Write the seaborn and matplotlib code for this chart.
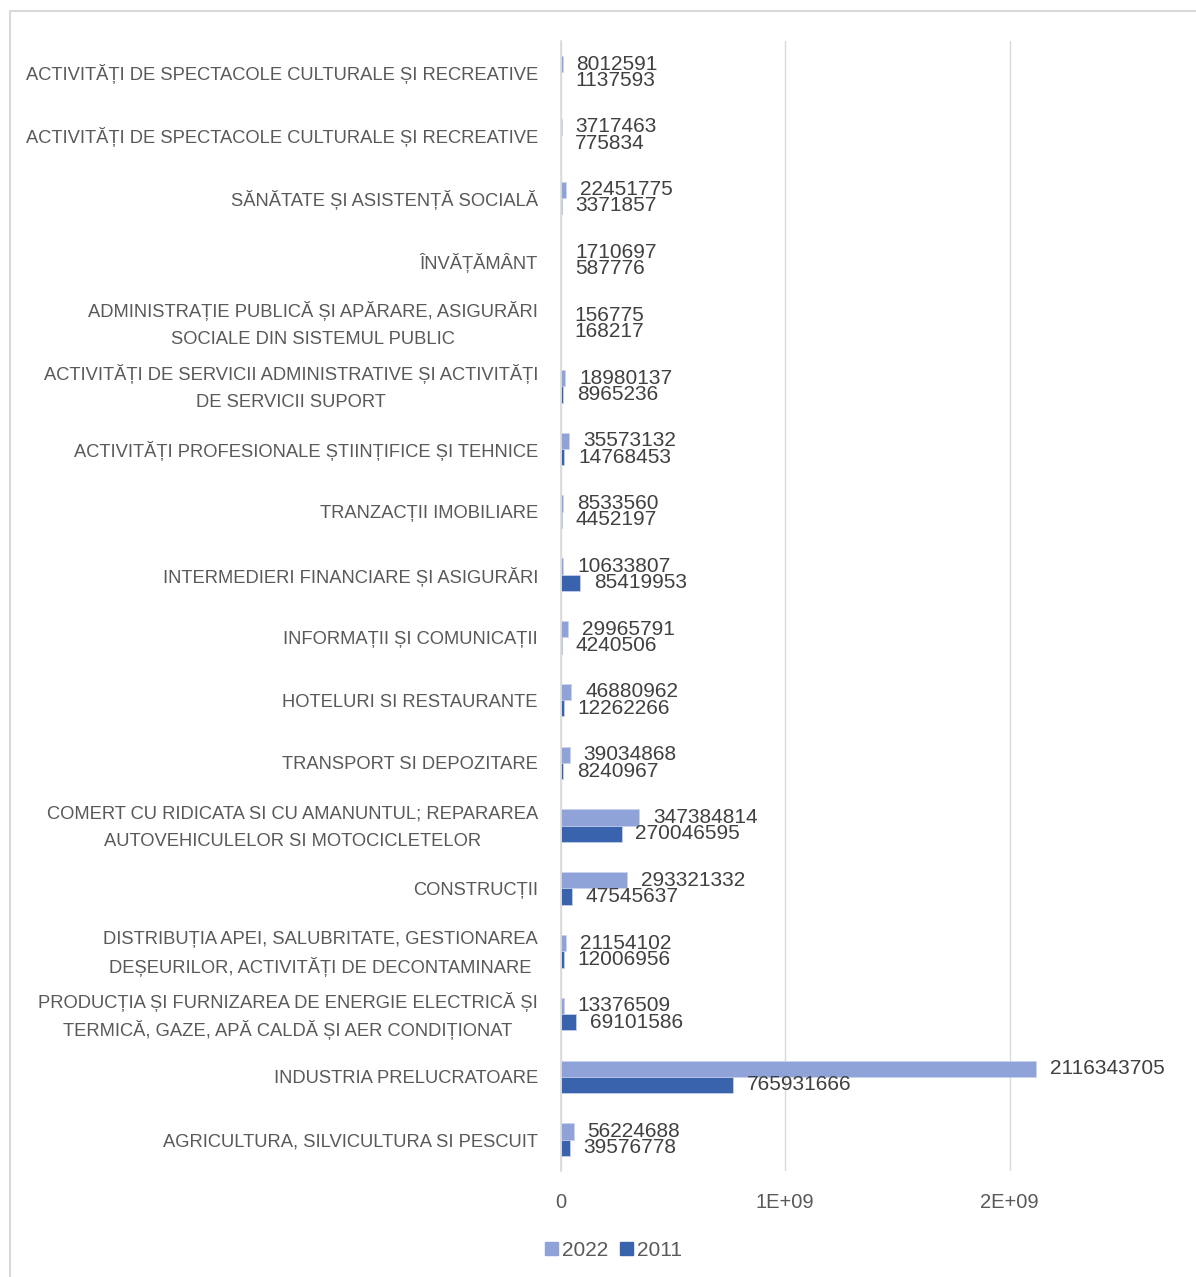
import matplotlib
matplotlib.use("Agg")
import matplotlib.pyplot as plt
import seaborn as sns
import pandas as pd
from matplotlib.lines import Line2D
from matplotlib.patches import Patch

categories = [
    "ACTIVITĂȚI DE SPECTACOLE CULTURALE ȘI RECREATIVE",
    "ACTIVITĂȚI DE SPECTACOLE CULTURALE ȘI RECREATIVE",
    "SĂNĂTATE ȘI ASISTENȚĂ SOCIALĂ",
    "ÎNVĂȚĂMÂNT",
    "ADMINISTRAȚIE PUBLICĂ ȘI APĂRARE, ASIGURĂRI\nSOCIALE DIN SISTEMUL PUBLIC",
    "ACTIVITĂȚI DE SERVICII ADMINISTRATIVE ȘI ACTIVITĂȚI\nDE SERVICII SUPORT",
    "ACTIVITĂȚI PROFESIONALE ȘTIINȚIFICE ȘI TEHNICE",
    "TRANZACȚII IMOBILIARE",
    "INTERMEDIERI FINANCIARE ȘI ASIGURĂRI",
    "INFORMAȚII ȘI COMUNICAȚII",
    "HOTELURI SI RESTAURANTE",
    "TRANSPORT SI DEPOZITARE",
    "COMERT CU RIDICATA SI CU AMANUNTUL; REPARAREA\nAUTOVEHICULELOR SI MOTOCICLETELOR",
    "CONSTRUCȚII",
    "DISTRIBUȚIA APEI, SALUBRITATE, GESTIONAREA\nDEȘEURILOR, ACTIVITĂȚI DE DECONTAMINARE",
    "PRODUCȚIA ȘI FURNIZAREA DE ENERGIE ELECTRICĂ ȘI\nTERMICĂ, GAZE, APĂ CALDĂ ȘI AER CONDIȚIONAT",
    "INDUSTRIA PRELUCRATOARE",
    "AGRICULTURA, SILVICULTURA SI PESCUIT",
]
values_2022 = [8012591, 3717463, 22451775, 1710697, 156775, 18980137, 35573132,
               8533560, 10633807, 29965791, 46880962, 39034868, 347384814,
               293321332, 21154102, 13376509, 2116343705, 56224688]
values_2011 = [1137593, 775834, 3371857, 587776, 168217, 8965236, 14768453,
               4452197, 85419953, 4240506, 12262266, 8240967, 270046595,
               47545637, 12006956, 69101586, 765931666, 39576778]
years = ["2022", "2011"]
colors = ["#8FA3D8", "#3A63AE"]

# categoria apare de doua ori, deci folosim un cod unic pe rand
codes = [f"c{i:02d}" for i in range(len(categories))]
df = pd.DataFrame({
    "cod": codes * 2,
    "valoare": values_2022 + values_2011,
    "an": [years[0]] * len(categories) + [years[1]] * len(categories),
})

sns.set_theme(style="white")
plt.rcParams["font.family"] = ["Liberation Sans", "DejaVu Sans"]
text_color = "#595959"

fig = plt.figure(figsize=(11.96, 12.77), dpi=100)
ax = fig.add_axes([0.469, 0.083, 0.469, 0.885])

sns.barplot(data=df, y="cod", x="valoare", hue="an", hue_order=years,
            order=codes, palette=colors, saturation=1, orient="h", width=0.52,
            ax=ax, edgecolor="#C9D3EE", linewidth=0.5, legend=False)

# etichete de date
for cont, vals in zip(ax.containers, [values_2022, values_2011]):
    ax.bar_label(cont, labels=[str(v) for v in vals], padding=10,
                 fontsize=15, color="#404040")

ax.set_xlim(0, 2.5e9)
ax.set_xticks([0, 1e9, 2e9])
ax.set_xticklabels(["0", "1E+09", "2E+09"])
ax.set_xlabel("")
ax.set_ylabel("")
ax.grid(axis="x", color="#D9D9D9", linewidth=1)
ax.set_axisbelow(True)
for s in ["top", "right", "bottom"]:
    ax.spines[s].set_visible(False)
ax.spines["left"].set_color("#D9D9D9")
ax.spines["left"].set_linewidth(1.2)
ax.tick_params(axis="x", length=0, pad=16, labelsize=14.5, labelcolor=text_color)
ax.tick_params(axis="y", length=0, labelleft=False)

# etichetele categoriilor: fiecare rand separat, ca spatiul dintre randuri sa fie egal
renderer = fig.canvas.get_renderer()
gap_px, line_px = 23, 28
for i, cat in enumerate(categories):
    lines = cat.split("\n")
    texts = [ax.annotate(ln, xy=(0, i), xycoords=("axes fraction", "data"),
                         xytext=(0, 0), textcoords="offset points",
                         ha="center", va="center_baseline", fontsize=13.2,
                         color=text_color) for ln in lines]
    w = max(t.get_window_extent(renderer).width for t in texts)
    for k, t in enumerate(texts):
        dy = ((len(lines) - 1) / 2 - k) * line_px
        t.xyann = (-(gap_px + w / 2) * 0.72, dy * 0.72)

handles = [Patch(facecolor=c, edgecolor=c) for c in colors]
fig.legend(handles, years, loc="center", bbox_to_anchor=(0.513, 0.021), ncol=2,
           frameon=False, fontsize=15, handlelength=0.6, handleheight=0.6,
           handletextpad=0.2, columnspacing=0.6, labelcolor=text_color)

# chenarul graficului
fig.add_artist(Line2D([0.008, 0.008], [0, 0.991], color="#D9D9D9", lw=1.5,
                      transform=fig.transFigure))
fig.add_artist(Line2D([0.008, 1], [0.991, 0.991], color="#D9D9D9", lw=1.5,
                      transform=fig.transFigure))

fig.savefig("out.png", dpi=100, facecolor="white")
